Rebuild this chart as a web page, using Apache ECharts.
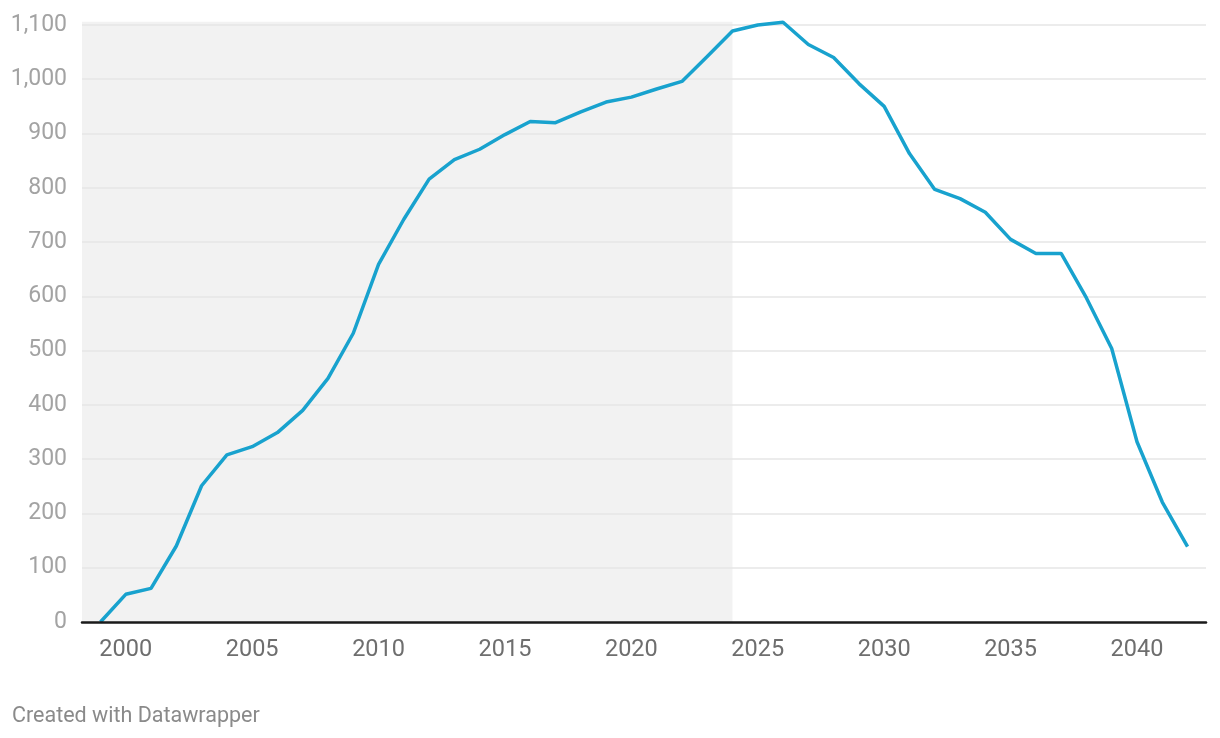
<!DOCTYPE html>
<html>
<head>
<meta charset="utf-8">
<script src="https://cdn.jsdelivr.net/npm/echarts@6/dist/echarts.min.js"></script>
<style>
html,body{margin:0;padding:0;background:#fff;}
#chart{width:1220px;height:738px;}
</style>
</head>
<body>
<div id="chart"></div>
<script>
const years = [1999,2000,2001,2002,2003,2004,2005,2006,2007,2008,2009,2010,2011,2012,2013,2014,2015,2016,2017,2018,2019,2020,2021,2022,2023,2024,2025,2026,2027,2028,2029,2030,2031,2032,2033,2034,2035,2036,2037,2038,2039,2040,2041,2042];
const values = [0,51,62,140,251,308,323,349,390,449,532,659,742,816,852,871,898,922,920,940,958,967,982,996,1042,1089,1100,1105,1064,1040,992,950,863,797,780,755,705,679,679,597,504,332,221,139];
const xTicks = [2000,2005,2010,2015,2020,2025,2030,2035,2040];
const yTicks = [0,100,200,300,400,500,600,700,800,900,1000,1100];
const shadeStart = 1998.27;
const shadeEnd = 2024;
const footer = 'Created with Datawrapper';

const chart = echarts.init(document.getElementById('chart'));
const fontFamily = 'Roboto, "Noto Sans", sans-serif';
chart.setOption({
  animation: false,
  title: {
    text: footer,
    left: 7,
    top: 701,
    textStyle: {fontFamily: fontFamily, fontSize: 21.5, fontWeight: 'normal', color: '#8a8a8a'}
  },
  grid: {left: 82, right: 14, top: 21.7, bottom: 116, containLabel: false},
  xAxis: {
    type: 'value',
    min: 1998.27,
    max: 2042.73,
    z: 10,
    axisLine: {show: true, onZero: false, lineStyle: {color: '#1a1a1a', width: 2.5}},
    axisTick: {show: false},
    splitLine: {show: false},
    axisLabel: {
      customValues: xTicks,
      color: '#6e6e6e',
      fontFamily: fontFamily,
      fontSize: 23.5,
      margin: 16,
      formatter: v => String(v)
    }
  },
  yAxis: {
    type: 'value',
    min: 0,
    max: 1106,
    axisLine: {show: false},
    axisTick: {show: false, customValues: yTicks},
    splitLine: {show: false},
    axisLabel: {
      customValues: yTicks,
      color: '#a3a3a3',
      fontFamily: fontFamily,
      fontSize: 23,
      margin: 15,
      formatter: v => v.toLocaleString('en-US')
    }
  },
  series: [{
    type: 'line',
    data: years.map((y, i) => [y, values[i]]),
    symbol: 'none',
    clip: false,
    lineStyle: {color: '#18a2ce', width: 3.5},
    z: 5,
    markArea: {
      silent: true,
      itemStyle: {color: '#f2f2f2'},
      data: [[{xAxis: shadeStart}, {xAxis: shadeEnd}]]
    },
    markLine: {
      silent: true,
      symbol: 'none',
      label: {show: false},
      lineStyle: {color: '#e6e6e6', width: 1.5, type: 'solid'},
      data: yTicks.filter(t => t > 0).map(t => ({yAxis: t}))
    }
  }]
});
</script>
</body>
</html>
